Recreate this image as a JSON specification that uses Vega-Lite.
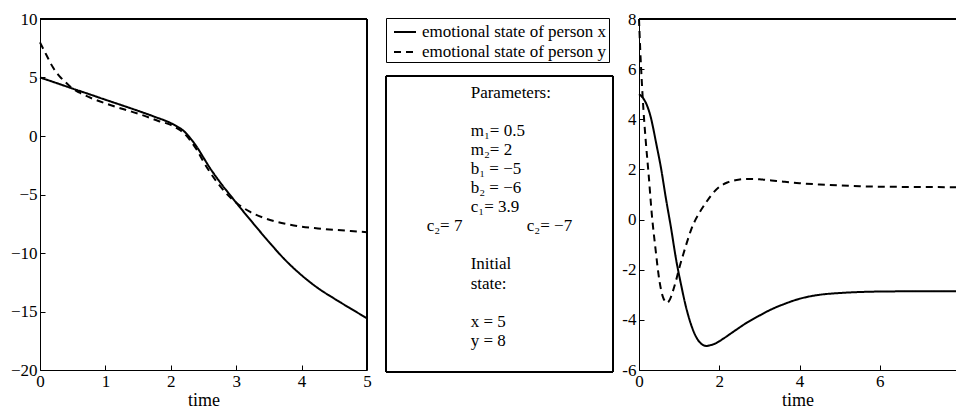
{
  "$schema": "https://vega.github.io/schema/vega-lite/v6.json",
  "autosize": {"type": "pad"},
  "padding": {"left": 10, "top": 10, "right": 0, "bottom": 0},
  "background": "white",
  "datasets": {
    "left": [
      {"t": 0, "v": 5.0, "series": "emotional state of person x"},
      {"t": 0.25, "v": 4.53, "series": "emotional state of person x"},
      {"t": 0.5, "v": 4.05, "series": "emotional state of person x"},
      {"t": 0.75, "v": 3.58, "series": "emotional state of person x"},
      {"t": 1.0, "v": 3.1, "series": "emotional state of person x"},
      {"t": 1.25, "v": 2.63, "series": "emotional state of person x"},
      {"t": 1.5, "v": 2.15, "series": "emotional state of person x"},
      {"t": 1.75, "v": 1.65, "series": "emotional state of person x"},
      {"t": 2.0, "v": 1.1, "series": "emotional state of person x"},
      {"t": 2.1, "v": 0.8, "series": "emotional state of person x"},
      {"t": 2.2, "v": 0.42, "series": "emotional state of person x"},
      {"t": 2.3, "v": -0.2, "series": "emotional state of person x"},
      {"t": 2.4, "v": -0.95, "series": "emotional state of person x"},
      {"t": 2.5, "v": -1.85, "series": "emotional state of person x"},
      {"t": 2.6, "v": -2.75, "series": "emotional state of person x"},
      {"t": 2.7, "v": -3.55, "series": "emotional state of person x"},
      {"t": 2.8, "v": -4.3, "series": "emotional state of person x"},
      {"t": 2.9, "v": -5.0, "series": "emotional state of person x"},
      {"t": 3.0, "v": -5.7, "series": "emotional state of person x"},
      {"t": 3.25, "v": -7.4, "series": "emotional state of person x"},
      {"t": 3.5, "v": -9.05, "series": "emotional state of person x"},
      {"t": 3.75, "v": -10.6, "series": "emotional state of person x"},
      {"t": 4.0, "v": -11.9, "series": "emotional state of person x"},
      {"t": 4.25, "v": -13.0, "series": "emotional state of person x"},
      {"t": 4.5, "v": -13.9, "series": "emotional state of person x"},
      {"t": 4.75, "v": -14.75, "series": "emotional state of person x"},
      {"t": 5.0, "v": -15.58, "series": "emotional state of person x"},
      {"t": 0, "v": 8.0, "series": "emotional state of person y"},
      {"t": 0.1, "v": 6.9, "series": "emotional state of person y"},
      {"t": 0.2, "v": 5.85, "series": "emotional state of person y"},
      {"t": 0.3, "v": 5.1, "series": "emotional state of person y"},
      {"t": 0.4, "v": 4.55, "series": "emotional state of person y"},
      {"t": 0.5, "v": 4.05, "series": "emotional state of person y"},
      {"t": 0.6, "v": 3.72, "series": "emotional state of person y"},
      {"t": 0.8, "v": 3.2, "series": "emotional state of person y"},
      {"t": 1.0, "v": 2.79, "series": "emotional state of person y"},
      {"t": 1.2, "v": 2.42, "series": "emotional state of person y"},
      {"t": 1.4, "v": 2.08, "series": "emotional state of person y"},
      {"t": 1.6, "v": 1.72, "series": "emotional state of person y"},
      {"t": 1.8, "v": 1.3, "series": "emotional state of person y"},
      {"t": 2.0, "v": 0.95, "series": "emotional state of person y"},
      {"t": 2.1, "v": 0.65, "series": "emotional state of person y"},
      {"t": 2.2, "v": 0.25, "series": "emotional state of person y"},
      {"t": 2.3, "v": -0.4, "series": "emotional state of person y"},
      {"t": 2.4, "v": -1.2, "series": "emotional state of person y"},
      {"t": 2.5, "v": -2.2, "series": "emotional state of person y"},
      {"t": 2.6, "v": -3.1, "series": "emotional state of person y"},
      {"t": 2.7, "v": -3.9, "series": "emotional state of person y"},
      {"t": 2.8, "v": -4.6, "series": "emotional state of person y"},
      {"t": 2.9, "v": -5.2, "series": "emotional state of person y"},
      {"t": 3.0, "v": -5.7, "series": "emotional state of person y"},
      {"t": 3.1, "v": -6.1, "series": "emotional state of person y"},
      {"t": 3.2, "v": -6.45, "series": "emotional state of person y"},
      {"t": 3.4, "v": -6.95, "series": "emotional state of person y"},
      {"t": 3.6, "v": -7.3, "series": "emotional state of person y"},
      {"t": 3.8, "v": -7.55, "series": "emotional state of person y"},
      {"t": 4.0, "v": -7.75, "series": "emotional state of person y"},
      {"t": 4.25, "v": -7.9, "series": "emotional state of person y"},
      {"t": 4.5, "v": -8.02, "series": "emotional state of person y"},
      {"t": 4.75, "v": -8.12, "series": "emotional state of person y"},
      {"t": 5.0, "v": -8.22, "series": "emotional state of person y"}
    ],
    "right": [
      {"t": 0, "v": 5.0, "series": "emotional state of person x"},
      {"t": 0.1, "v": 4.85, "series": "emotional state of person x"},
      {"t": 0.2, "v": 4.55, "series": "emotional state of person x"},
      {"t": 0.3, "v": 4.04, "series": "emotional state of person x"},
      {"t": 0.36, "v": 3.6, "series": "emotional state of person x"},
      {"t": 0.42, "v": 3.11, "series": "emotional state of person x"},
      {"t": 0.55, "v": 2.04, "series": "emotional state of person x"},
      {"t": 0.67, "v": 0.85, "series": "emotional state of person x"},
      {"t": 0.8, "v": -0.35, "series": "emotional state of person x"},
      {"t": 0.92, "v": -1.55, "series": "emotional state of person x"},
      {"t": 1.05, "v": -2.61, "series": "emotional state of person x"},
      {"t": 1.17, "v": -3.48, "series": "emotional state of person x"},
      {"t": 1.3, "v": -4.2, "series": "emotional state of person x"},
      {"t": 1.42, "v": -4.67, "series": "emotional state of person x"},
      {"t": 1.55, "v": -4.95, "series": "emotional state of person x"},
      {"t": 1.68, "v": -5.04, "series": "emotional state of person x"},
      {"t": 1.8, "v": -5.0, "series": "emotional state of person x"},
      {"t": 1.92, "v": -4.93, "series": "emotional state of person x"},
      {"t": 2.1, "v": -4.75, "series": "emotional state of person x"},
      {"t": 2.4, "v": -4.42, "series": "emotional state of person x"},
      {"t": 2.7, "v": -4.1, "series": "emotional state of person x"},
      {"t": 3.0, "v": -3.83, "series": "emotional state of person x"},
      {"t": 3.3, "v": -3.58, "series": "emotional state of person x"},
      {"t": 3.6, "v": -3.38, "series": "emotional state of person x"},
      {"t": 4.0, "v": -3.16, "series": "emotional state of person x"},
      {"t": 4.5, "v": -3.0, "series": "emotional state of person x"},
      {"t": 5.0, "v": -2.93, "series": "emotional state of person x"},
      {"t": 5.5, "v": -2.89, "series": "emotional state of person x"},
      {"t": 6.0, "v": -2.87, "series": "emotional state of person x"},
      {"t": 7.0, "v": -2.86, "series": "emotional state of person x"},
      {"t": 7.9, "v": -2.86, "series": "emotional state of person x"},
      {"t": 0, "v": 8.0, "series": "emotional state of person y"},
      {"t": 0.03, "v": 6.8, "series": "emotional state of person y"},
      {"t": 0.07, "v": 5.5, "series": "emotional state of person y"},
      {"t": 0.11, "v": 4.4, "series": "emotional state of person y"},
      {"t": 0.17, "v": 3.1, "series": "emotional state of person y"},
      {"t": 0.24, "v": 1.8, "series": "emotional state of person y"},
      {"t": 0.32, "v": 0.2, "series": "emotional state of person y"},
      {"t": 0.41, "v": -1.15, "series": "emotional state of person y"},
      {"t": 0.51, "v": -2.45, "series": "emotional state of person y"},
      {"t": 0.6, "v": -3.1, "series": "emotional state of person y"},
      {"t": 0.7, "v": -3.32, "series": "emotional state of person y"},
      {"t": 0.78, "v": -3.15, "series": "emotional state of person y"},
      {"t": 0.84, "v": -2.88, "series": "emotional state of person y"},
      {"t": 0.92, "v": -2.45, "series": "emotional state of person y"},
      {"t": 1.0, "v": -1.95, "series": "emotional state of person y"},
      {"t": 1.1, "v": -1.4, "series": "emotional state of person y"},
      {"t": 1.2, "v": -0.88, "series": "emotional state of person y"},
      {"t": 1.3, "v": -0.4, "series": "emotional state of person y"},
      {"t": 1.4, "v": -0.03, "series": "emotional state of person y"},
      {"t": 1.52, "v": 0.31, "series": "emotional state of person y"},
      {"t": 1.67, "v": 0.68, "series": "emotional state of person y"},
      {"t": 1.8, "v": 0.97, "series": "emotional state of person y"},
      {"t": 2.0, "v": 1.3, "series": "emotional state of person y"},
      {"t": 2.2, "v": 1.48, "series": "emotional state of person y"},
      {"t": 2.4, "v": 1.57, "series": "emotional state of person y"},
      {"t": 2.7, "v": 1.62, "series": "emotional state of person y"},
      {"t": 3.0, "v": 1.61, "series": "emotional state of person y"},
      {"t": 3.3, "v": 1.56, "series": "emotional state of person y"},
      {"t": 3.6, "v": 1.51, "series": "emotional state of person y"},
      {"t": 4.0, "v": 1.45, "series": "emotional state of person y"},
      {"t": 4.5, "v": 1.4, "series": "emotional state of person y"},
      {"t": 5.0, "v": 1.36, "series": "emotional state of person y"},
      {"t": 5.5, "v": 1.33, "series": "emotional state of person y"},
      {"t": 6.0, "v": 1.31, "series": "emotional state of person y"},
      {"t": 7.0, "v": 1.3, "series": "emotional state of person y"},
      {"t": 7.9, "v": 1.29, "series": "emotional state of person y"}
    ],
    "params": [
      {"label": "Parameters:", "line": 0, "xpos": 0.373},
      {"label": "m₁= 0.5", "line": 2, "xpos": 0.373},
      {"label": "m₂= 2", "line": 3, "xpos": 0.373},
      {"label": "b₁ = −5", "line": 4, "xpos": 0.373},
      {"label": "b₂ = −6", "line": 5, "xpos": 0.373},
      {"label": "c₁= 3.9", "line": 6, "xpos": 0.373},
      {"label": "c₂= 7", "line": 7, "xpos": 0.179},
      {"label": "c₂= −7", "line": 7, "xpos": 0.62},
      {"label": "Initial", "line": 9, "xpos": 0.373},
      {"label": "state:", "line": 10, "xpos": 0.373},
      {"label": "x = 5", "line": 12, "xpos": 0.373},
      {"label": "y = 8", "line": 13, "xpos": 0.373}
    ]
  },
  "spacing": 19,
  "bounds": "flush",
  "resolve": {"scale": {"strokeDash": "independent"}, "legend": {"strokeDash": "independent"}},
  "hconcat": [
    {
      "width": 327,
      "height": 351,
      "data": {"name": "left"},
      "layer": [
        {
          "mark": {"type": "line", "strokeWidth": 2, "color": "black", "interpolate": "monotone", "strokeCap": "butt"},
          "encoding": {
            "x": {"field": "t", "type": "quantitative", "scale": {"domain": [0, 5], "nice": false, "zero": false},
                  "axis": {"orient": "bottom", "values": [0, 1, 2, 3, 4, 5], "format": "d", "title": "time"}},
            "y": {"field": "v", "type": "quantitative", "scale": {"domain": [-20, 10], "nice": false, "zero": false},
                  "axis": {"orient": "left", "values": [-20, -15, -10, -5, 0, 5, 10], "format": "d", "title": null}},
            "strokeDash": {"field": "series", "type": "nominal",
                  "scale": {"domain": ["emotional state of person x", "emotional state of person y"], "range": [[1, 0], [7, 5]]},
                  "legend": {"orient": "none", "legendX": 346, "legendY": -1, "title": null}}
          }
        },
        {
          "mark": {"type": "rule", "color": "black", "strokeWidth": 1},
          "encoding": {"y": {"datum": 10, "type": "quantitative"}}
        },
        {
          "mark": {"type": "rule", "color": "black", "strokeWidth": 1},
          "encoding": {"x": {"datum": 5, "type": "quantitative"}}
        }
      ]
    },
    {
      "width": 234,
      "height": 353,
      "data": {"name": "params"},
      "layer": [
        {
          "mark": {"type": "rect", "fill": null, "stroke": "black", "strokeWidth": 1, "cornerRadius": 0},
          "encoding": {
            "x": {"datum": 0, "type": "quantitative", "scale": {"domain": [0, 1.0308], "nice": false, "zero": false}, "axis": null},
            "x2": {"datum": 1},
            "y": {"datum": -0.878, "type": "quantitative", "scale": {"domain": [-3.865, 14.636], "nice": false, "zero": false, "reverse": true}, "axis": null},
            "y2": {"datum": 14.636}
          }
        },
        {
          "mark": {"type": "text", "align": "left", "baseline": "middle", "font": "Liberation Serif", "fontSize": 17, "color": "black"},
          "encoding": {
            "x": {"field": "xpos", "type": "quantitative", "axis": null},
            "y": {"field": "line", "type": "quantitative", "axis": null},
            "text": {"field": "label", "type": "nominal"}
          }
        }
      ]
    },
    {
      "width": 317,
      "height": 351,
      "data": {"name": "right"},
      "layer": [
        {
          "mark": {"type": "line", "strokeWidth": 2, "color": "black", "interpolate": "monotone", "strokeCap": "butt"},
          "encoding": {
            "x": {"field": "t", "type": "quantitative", "scale": {"domain": [0, 7.9], "nice": false, "zero": false},
                  "axis": {"orient": "bottom", "values": [0, 2, 4, 6], "format": "d", "title": "time"}},
            "y": {"field": "v", "type": "quantitative", "scale": {"domain": [-6, 8], "nice": false, "zero": false},
                  "axis": {"orient": "left", "values": [-6, -4, -2, 0, 2, 4, 6, 8], "format": "d", "title": null, "labelExpr": "replace(datum.label, '−', '-')"}},
            "strokeDash": {"field": "series", "type": "nominal",
                  "scale": {"domain": ["emotional state of person x", "emotional state of person y"], "range": [[1, 0], [7, 5]]},
                  "legend": null}
          }
        },
        {
          "mark": {"type": "rule", "color": "black", "strokeWidth": 1},
          "encoding": {"y": {"datum": 8, "type": "quantitative"}}
        }
      ]
    }
  ],
  "config": {
    "font": "Liberation Serif",
    "view": {"stroke": null},
    "axis": {
      "labelFont": "Liberation Serif", "labelFontSize": 17, "labelColor": "black",
      "titleFont": "Liberation Serif", "titleFontSize": 18, "titleFontWeight": "normal", "titleColor": "black",
      "domainColor": "black", "domainWidth": 1, "tickColor": "black", "tickWidth": 1, "tickSize": -5,
      "labelPadding": 8, "titlePadding": 2, "grid": false, "labelFlush": false, "labelOverlap": false
    },
    "legend": {
      "strokeColor": "black", "fillColor": "white", "padding": 2, "cornerRadius": 0,
      "labelFont": "Liberation Serif", "labelFontSize": 17, "labelColor": "black", "labelLimit": 400,
      "symbolType": "stroke", "symbolStrokeColor": "black", "symbolStrokeWidth": 2, "symbolSize": 484,
      "symbolOffset": 5, "labelOffset": 5, "rowPadding": 0
    }
  }
}
